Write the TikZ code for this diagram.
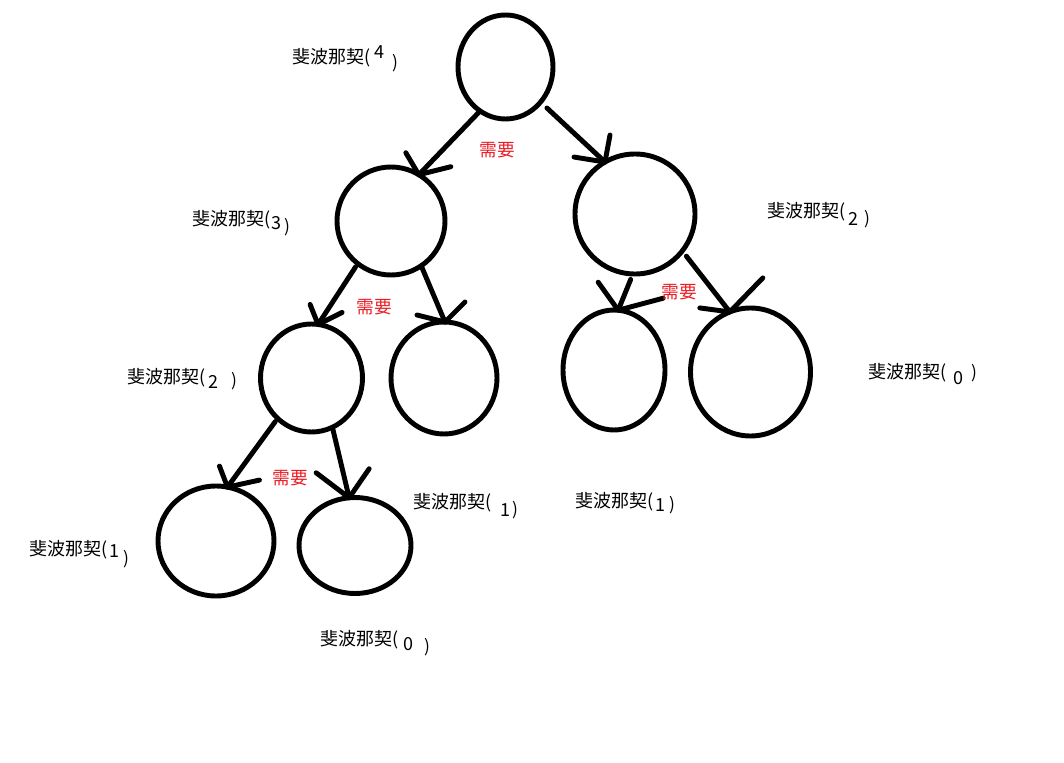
\documentclass[tikz,border=0pt]{standalone}
\usepackage{fontspec}
\setmainfont{Noto Sans CJK SC}
\usetikzlibrary{shapes.geometric,calc}
\definecolor{labred}{RGB}{237,28,36}
\tikzset{
  circ/.style 2 args={draw,ellipse,line width=3.7pt,inner sep=0pt,outer sep=0pt,minimum width=#1,minimum height=#2},
  ln/.style={line width=3.7pt,line cap=round,line join=round},
  fibtxt/.style={inner sep=0pt,anchor=west,font=\fontsize{13.5pt}{16pt}\selectfont},
  fibnum/.style={inner sep=0pt,font=\fontsize{13.5pt}{16pt}\selectfont},
  fibpar/.style={inner sep=0pt,font=\fontsize{13pt}{15pt}\selectfont},
  needtxt/.style={inner sep=0pt,text=labred,font=\fontsize{13.3pt}{15pt}\selectfont}
}
\begin{document}
\begin{tikzpicture}[x=0.75pt,y=-0.75pt]
\fill[white] (0,0) rectangle (1064,763);
\useasboundingbox (0,0) rectangle (1064,763);

% circles
\node[circ={71.25pt}{78pt}] (root) at (505.5,67) {};
\node[circ={81pt}{81pt}] (n3) at (391,221) {};
\node[circ={90pt}{90pt}] (n2R) at (635,214) {};
\node[circ={76.5pt}{81pt}] (n2L) at (311.5,378) {};
\node[circ={79.5pt}{84pt}] (n5) at (444,378) {};
\node[circ={76.5pt}{90pt}] (n6) at (614,370) {};
\node[circ={90pt}{96pt}] (n7) at (750.5,372) {};
\node[circ={87pt}{82.5pt}] (n8) at (216,541) {};
\node[circ={84pt}{72pt}] (n9) at (355,545.5) {};

% connectors with hand-drawn heads
\draw[ln] (root.240) -- (n3.59);
\draw[ln] ($(n3.59)+(-13,-22)$) -- (n3.59) -- ($(n3.59)+(32,-8)$);

\draw[ln,shorten <=6.5pt] (root.315) -- (n2R.120);
\draw[ln] ($(n2R.120)+(-31,-5)$) -- (n2R.120) -- ($(n2R.120)+(5,-27)$);

\draw[ln,shorten <=3pt] (n3.232) -- (n2L.83);
\draw[ln] ($(n2L.83)+(-8,-20)$) -- (n2L.83) -- ($(n2L.83)+(24,-12)$);

\draw[ln] (n3.304) -- (n5.89);
\draw[ln] ($(n5.89)+(-28,-7)$) -- (n5.89) -- ($(n5.89)+(20,-20)$);

\draw[ln,shorten <=4.5pt] (n2R.268) -- (n6.86);
\draw[ln] ($(n6.86)+(-20,-28)$) -- (n6.86) -- ($(n6.86)+(45,-12)$);

\draw[ln,shorten <=5pt] (n2R.322) -- (n7.109);
\draw[ln] ($(n7.109)+(-30,-4)$) -- (n7.109) -- ($(n7.109)+(33,-34)$);

\draw[ln,shorten <=3pt] (n2L.230) -- (n8.78);
\draw[ln] ($(n8.78)+(-8,-21)$) -- (n8.78) -- ($(n8.78)+(32,-7)$);

\draw[ln] (n2L.293) -- (n9.97);
\draw[ln] ($(n9.97)+(-33,-25)$) -- (n9.97) -- ($(n9.97)+(20,-29)$);

% red labels
\node[needtxt] (r1) at (497,150) {需要};
\node[needtxt] (r2) at (374,307) {需要};
\node[needtxt] (r3) at (679.5,292) {需要};
\node[needtxt] (r4) at (290.5,478) {需要};

% fibonacci labels
\node[fibtxt] (t1) at (292,58) {斐波那契(};
\node[fibnum] (t1n) at (379,52) {4};
\node[fibpar] (t1p) at (395,63) {)};

\node[fibtxt] (t2) at (192,220) {斐波那契(};
\node[fibnum] (t2n) at (276.5,223) {3};
\node[fibpar] (t2p) at (287,227) {)};

\node[fibtxt] (t3) at (767,212) {斐波那契(};
\node[fibnum] (t3n) at (853,219) {2};
\node[fibpar] (t3p) at (867,219) {)};

\node[fibtxt] (t4) at (127,378) {斐波那契(};
\node[fibnum] (t4n) at (213,382) {2};
\node[fibpar] (t4p) at (234,381) {)};

\node[fibtxt] (t5) at (868,373) {斐波那契(};
\node[fibnum] (t5n) at (958,378) {0};
\node[fibpar] (t5p) at (974,373) {)};

\node[fibtxt] (t6) at (413,503) {斐波那契(};
\node[fibnum] (t6n) at (505,510) {1};
\node[fibpar] (t6p) at (515,510) {)};

\node[fibtxt] (t7) at (575,502) {斐波那契(};
\node[fibnum] (t7n) at (660,505) {1};
\node[fibpar] (t7p) at (672,505) {)};

\node[fibtxt] (t8) at (29,550) {斐波那契(};
\node[fibnum] (t8n) at (114,551) {1};
\node[fibpar] (t8p) at (126,559) {)};

\node[fibtxt] (t9) at (320,640) {斐波那契(};
\node[fibnum] (t9n) at (408,644) {0};
\node[fibpar] (t9p) at (427,647) {)};
\end{tikzpicture}
\end{document}
